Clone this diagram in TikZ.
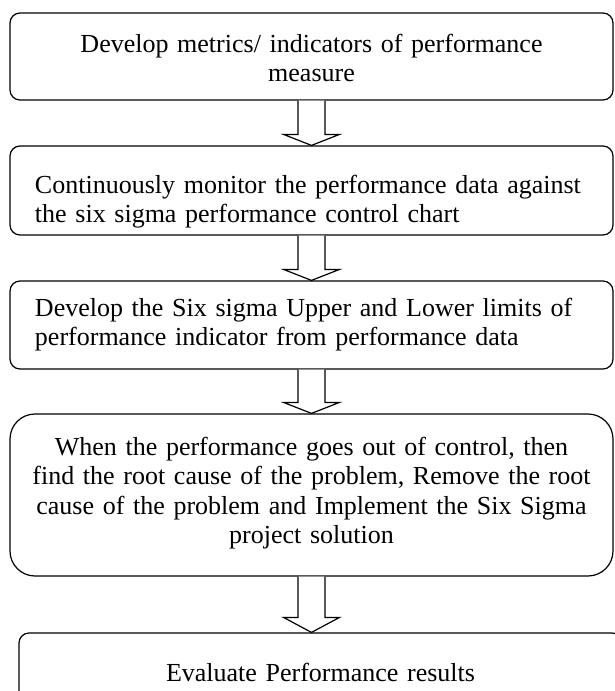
\documentclass[tikz,border=0pt]{standalone}
\usepackage{fontspec}
\setmainfont{Liberation Serif}
\usetikzlibrary{calc}

\newcommand{\hollowarrow}[3]{%
\draw [arrowline] let \p1=(#1.south), \p2=(#2.north) in
  (\x1-13.5pt,\y1) -- (\x1-13.5pt,\y2+#3) -- (\x1-28pt,\y2+#3) -- (\x1,\y2)
  -- (\x1+28pt,\y2+#3) -- (\x1+13.5pt,\y2+#3) -- (\x1+13.5pt,\y1);
}

\begin{document}
\begin{tikzpicture}[x=1pt, y=-1pt, font=\fontsize{26}{29.5}\selectfont]

\tikzstyle box=[draw, line width=1.2pt, rounded corners=10pt, minimum width=603pt, text width=570pt, inner xsep=16.5pt, inner ysep=0pt, text height=19pt, align=center]
\tikzstyle leftbox=[box, align=left, execute at begin node={\leftskip=8.5pt}]
\tikzstyle arrowline=[draw, line width=1.2pt, fill=white, line join=miter]

\useasboundingbox (0,0) rectangle (614,691);

\node (metrics) [box, minimum height=87pt, text depth=28pt] at (311.5,56.5) {Develop metrics/ indicators of performance\\measure};
\node (monitor) [leftbox, minimum height=89pt, text depth=14pt] at (311.5,190.5) {Continuously monitor the performance data against\\the six sigma performance control chart};
\node (limits) [leftbox, minimum height=88pt, text depth=37pt] at (311.5,325) {Develop the Six sigma Upper and Lower limits of\\performance indicator from performance data};
\node (rootcause) [box, rounded corners=25pt, minimum height=162pt, text depth=99pt] at (311.5,495) {When the performance goes out of control, then\\find the root cause of the problem, Remove the root\\cause of the problem and Implement the Six Sigma\\project solution};
\node (evaluate) [box, minimum height=83pt, text depth=6pt] at (320.5,674.5) {Evaluate Performance results};

\hollowarrow{metrics}{monitor}{11pt}
\hollowarrow{monitor}{limits}{11pt}
\hollowarrow{limits}{rootcause}{11pt}
\hollowarrow{rootcause}{evaluate}{15pt}

\end{tikzpicture}
\end{document}
